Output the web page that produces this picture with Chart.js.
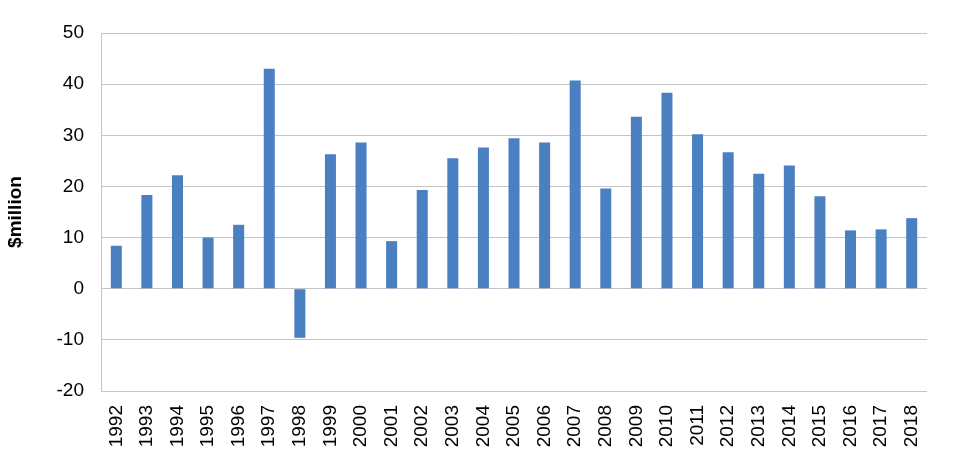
<!DOCTYPE html>
<html>
<head>
<meta charset="utf-8">
<script src="https://cdn.jsdelivr.net/npm/chart.js@4/dist/chart.umd.min.js"></script>
<style>
  html, body { margin: 0; padding: 0; background: #fff; }
  #wrap { width: 958px; height: 470px; }
</style>
</head>
<body>
<div id="wrap"><canvas id="myChart"></canvas></div>
<script>
let years = ["1992", "1993", "1994", "1995", "1996", "1997", "1998", "1999", "2000",
  "2001", "2002", "2003", "2004", "2005", "2006", "2007", "2008", "2009", "2010",
  "2011", "2012", "2013", "2014", "2015", "2016", "2017", "2018"];
let values = [8.4, 18.3, 22.2, 10.0, 12.5, 43.0, -9.6, 26.3, 28.6,
  9.3, 19.3, 25.5, 27.6, 29.4, 28.6, 40.7, 19.6, 33.6, 38.3,
  30.2, 26.7, 22.5, 24.1, 18.1, 11.4, 11.6, 13.8];
let yMin = -20;
let yMax = 50;
let yStep = 10;
let yTitle = "$million";

document.addEventListener("DOMContentLoaded", function () {
  Chart.defaults.font.family = "'Liberation Sans', Arial, sans-serif";
  Chart.defaults.color = "#000";

  const data = {
    labels: years,
    datasets: [
      {
        data: values,
        backgroundColor: "#4a7fc1",
        borderColor: "#4a7fc1",
        borderWidth: 0,
        barPercentage: 0.36,
        categoryPercentage: 1,
      },
    ],
  };

  const config = {
    type: "bar",
    data: data,
    options: {
      responsive: true,
      maintainAspectRatio: false,
      animation: false,
      layout: { padding: { top: 33, right: 31, left: 0, bottom: 0 } },
      plugins: {
        legend: { display: false },
        tooltip: { enabled: false },
      },
      scales: {
        x: {
          grid: { display: false, drawTicks: false },
          border: { display: false },
          ticks: {
            font: { size: 19 },
            minRotation: 90,
            maxRotation: 90,
            padding: 14,
            autoSkip: false,
          },
          afterFit: (s) => { s.height = 79; },
        },
        y: {
          min: yMin,
          max: yMax,
          grid: { color: "#c4c4c4", lineWidth: 1, drawTicks: false },
          border: { display: true, color: "#c4c4c4" },
          ticks: {
            stepSize: yStep,
            font: { size: 19 },
            padding: 17,
          },
          title: {
            display: true,
            text: yTitle,
            font: { size: 19, weight: "bold" },
            padding: { top: 4, bottom: 4 },
          },
          afterFit: (s) => { s.width = 101; },
        },
      },
    },
  };
  const myChart = new Chart(document.getElementById("myChart"), config);
});
</script>
</body>
</html>
